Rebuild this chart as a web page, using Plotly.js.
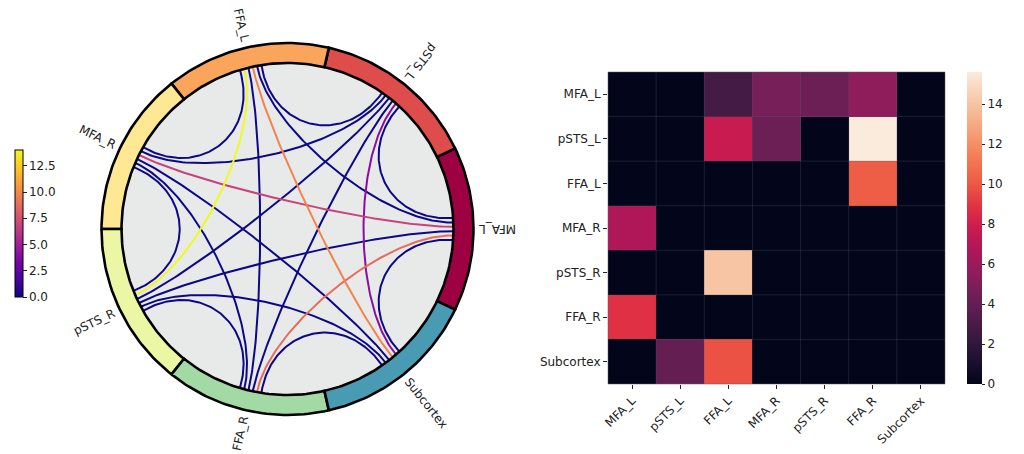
<!DOCTYPE html>
<html><head><meta charset="utf-8">
<script src="https://cdn.plot.ly/plotly-3.0.1.min.js"></script>
<style>html,body{margin:0;padding:0;background:#fff;}#chart{width:1024px;height:454px;}</style>
</head><body><div id="chart"></div>
<script>
// ---------- data ----------
const regions = ['MFA_L','pSTS_L','FFA_L','MFA_R','pSTS_R','FFA_R','Subcortex'];
const row_MFA_L     = [0,   0,   2.8, 4.7, 4.3, 5.6,  0];
const row_pSTS_L    = [0,   0,   7.7, 4.3, 0,   15.6, 0];
const row_FFA_L     = [0,   0,   0,   0,   0,   10.2, 0];
const row_MFA_R     = [6.8, 0,   0,   0,   0,   0,    0];
const row_pSTS_R    = [0,   0,   14.0,0,   0,   0,    0];
const row_FFA_R     = [8.8, 0,   0,   0,   0,   0,    0];
const row_Subcortex = [0,   4.0, 9.8, 0,   0,   0,    0];
const circleTicks = [0, 2.5, 5, 7.5, 10, 12.5];
const heatTicks = [0, 2, 4, 6, 8, 10, 12, 14];

// ---------- styles ----------
const nodeColors = ['#9e0142','#de4c4b','#fba55c','#fee894','#ebf7a4','#a3d9a4','#489bb3'];
const flipLabel = [true,true,true,true,true,true,false];
const plasma = [[0,'#0d0887'],[0.111,'#46039f'],[0.222,'#7201a8'],[0.333,'#9c179e'],[0.444,'#bd3786'],[0.556,'#d8576b'],[0.667,'#ed7953'],[0.778,'#fb9f3a'],[0.889,'#fdca26'],[1,'#f0f921']];
const rocket = [[0,'#03051a'],[0.071,'#1b1030'],[0.143,'#35193e'],[0.214,'#521c4c'],[0.286,'#701f57'],[0.357,'#8e1d5b'],[0.429,'#ad1759'],[0.5,'#cb1b4f'],[0.571,'#e13342'],[0.643,'#ed5a44'],[0.714,'#f37651'],[0.786,'#f5966e'],[0.857,'#f6b48f'],[0.929,'#f7d0b5'],[1,'#faebdd']];
const FONT = 'DejaVu Sans';
const R_IN = 166, R_OUT = 186, R_LBL = 192, K = 0.6, SPREAD = 3.8;
const CX = 287.5, CY = 229, LEFT_W = 575, H = 454, W = 1024;

const M = [row_MFA_L,row_pSTS_L,row_FFA_L,row_MFA_R,row_pSTS_R,row_FFA_R,row_Subcortex];
const n = regions.length;
const step = 360/n;
const ang = regions.map((_,i)=>i*step);
const rad = d=>d*Math.PI/180;

function hex2rgb(h){return [parseInt(h.slice(1,3),16),parseInt(h.slice(3,5),16),parseInt(h.slice(5,7),16)];}
function cmap(scale,t){
  t=Math.max(0,Math.min(1,t));
  for(let k=1;k<scale.length;k++){
    if(t<=scale[k][0]){
      const a=scale[k-1],b=scale[k];const f=(t-a[0])/(b[0]-a[0]);
      const ca=hex2rgb(a[1]),cb=hex2rgb(b[1]);
      return 'rgb('+ca.map((v,q)=>Math.round(v+(cb[q]-v)*f)).join(',')+')';
    }
  }
  return scale[scale.length-1][1];
}

// lower-triangle connections
const pairs=[];
for(let i=1;i<n;i++)for(let j=0;j<i;j++)pairs.push({i,j,v:M[i][j]});
const vmaxC=Math.max(...pairs.map(p=>p.v));

// endpoint spread per node
const off={};
for(let a=0;a<n;a++){
  const conn=[];
  pairs.forEach((p,k)=>{const o=p.i===a?p.j:(p.j===a?p.i:-1);if(o>=0)conn.push({k,d:((ang[o]-ang[a])%360+360)%360});});
  conn.sort((x,y)=>x.d-y.d);
  conn.forEach((c,idx)=>{off[a+'_'+c.k]=SPREAD-idx*(2*SPREAD/(conn.length-1));});
}

const traces=[];
// disc background
{
  const xs=[],ys=[];
  for(let t=0;t<=360;t+=2){xs.push(R_IN*Math.cos(rad(t)));ys.push(R_IN*Math.sin(rad(t)));}
  traces.push({x:xs,y:ys,mode:'lines',fill:'toself',fillcolor:'#e8e9e9',line:{width:0,color:'#e8e9e9'},hoverinfo:'skip',showlegend:false,xaxis:'x',yaxis:'y'});
}
// chords
const order=pairs.map((p,k)=>k).sort((a,b)=>pairs[a].v-pairs[b].v);
order.forEach(k=>{
  const p=pairs[k];
  const a0=rad(ang[p.i]+off[p.i+'_'+k]), a1=rad(ang[p.j]+off[p.j+'_'+k]);
  const P0=[R_IN*Math.cos(a0),R_IN*Math.sin(a0)], P3=[R_IN*Math.cos(a1),R_IN*Math.sin(a1)];
  const P1=[K*P0[0],K*P0[1]], P2=[K*P3[0],K*P3[1]];
  const xs=[],ys=[];
  for(let s=0;s<=100;s++){
    const t=s/100,u=1-t;
    const b0=u*u*u,b1=3*u*u*t,b2=3*u*t*t,b3=t*t*t;
    xs.push(b0*P0[0]+b1*P1[0]+b2*P2[0]+b3*P3[0]);
    ys.push(b0*P0[1]+b1*P1[1]+b2*P2[1]+b3*P3[1]);
  }
  traces.push({x:xs,y:ys,mode:'lines',line:{color:cmap(plasma,p.v/vmaxC),width:2},hoverinfo:'skip',showlegend:false,xaxis:'x',yaxis:'y'});
});
// ring segments
regions.forEach((r,i)=>{
  const a1=ang[i]-step/2,a2=ang[i]+step/2;const xs=[],ys=[];
  for(let s=0;s<=40;s++){const t=rad(a1+(a2-a1)*s/40);xs.push(R_OUT*Math.cos(t));ys.push(R_OUT*Math.sin(t));}
  for(let s=40;s>=0;s--){const t=rad(a1+(a2-a1)*s/40);xs.push(R_IN*Math.cos(t));ys.push(R_IN*Math.sin(t));}
  xs.push(xs[0]);ys.push(ys[0]);
  traces.push({x:xs,y:ys,mode:'lines',fill:'toself',fillcolor:nodeColors[i],line:{color:'#000',width:2.6},hoverinfo:'skip',showlegend:false,xaxis:'x',yaxis:'y'});
});
// plasma colorbar carrier
traces.push({x:[0],y:[0],mode:'markers',xaxis:'x',yaxis:'y',hoverinfo:'skip',showlegend:false,
  marker:{size:1,opacity:0,color:pairs.map(p=>p.v),cmin:0,cmax:vmaxC,colorscale:plasma,showscale:true,
    colorbar:{x:15/W,xanchor:'left',xpad:0,ypad:0,y:(H-223.5)/H,yanchor:'middle',thicknessmode:'pixels',thickness:7.5,lenmode:'pixels',len:147,
      outlinewidth:1,outlinecolor:'#000',tickmode:'array',tickvals:circleTicks,ticktext:circleTicks.map(v=>v.toFixed(1)),
      ticks:'outside',ticklen:3.5,tickwidth:1,tickcolor:'#222',tickfont:{family:FONT,size:12,color:'#222'}}}});

// heatmap
const zmax=Math.max(...M.flat());
traces.push({type:'heatmap',z:M,x:regions,y:regions,xaxis:'x2',yaxis:'y2',colorscale:rocket,zmin:0,zmax:zmax,hoverinfo:'skip',
  colorbar:{x:967/W,xanchor:'left',xpad:0,ypad:0,y:(H-228)/H,yanchor:'middle',thicknessmode:'pixels',thickness:15,lenmode:'pixels',len:312,
    outlinewidth:0,tickmode:'array',tickvals:heatTicks,ticks:'outside',ticklen:3.5,tickwidth:1,tickcolor:'#222',
    tickfont:{family:FONT,size:12,color:'#222'}}});

// labels
const ctx=document.createElement('canvas').getContext('2d');
ctx.font='12px "DejaVu Sans"';
const annotations=regions.map((r,i)=>{
  const w=ctx.measureText(r).width;
  const rc=R_LBL+w/2;
  const dir=flipLabel[i]?ang[i]+180:ang[i];
  let ta=-dir; while(ta<=-180)ta+=360; while(ta>180)ta-=360;
  return {x:rc*Math.cos(rad(ang[i])),y:rc*Math.sin(rad(ang[i])),xref:'x',yref:'y',text:r,showarrow:false,textangle:ta,
    xanchor:'center',yanchor:'middle',font:{family:FONT,size:12,color:'#222'}};
});

// heatmap cell separators + frame
const shapes=[];
for(let k=1;k<n;k++){
  shapes.push({type:'line',xref:'x2',yref:'y2 domain',x0:k-0.5,x1:k-0.5,y0:0,y1:1,line:{color:'rgba(90,90,110,0.3)',width:1},layer:'above'});
  shapes.push({type:'line',yref:'y2',xref:'x2 domain',y0:k-0.5,y1:k-0.5,x0:0,x1:1,line:{color:'rgba(90,90,110,0.3)',width:1},layer:'above'});
}
shapes.push({type:'rect',xref:'x2 domain',yref:'y2 domain',x0:0,x1:1,y0:0,y1:1,line:{color:'rgba(90,90,110,0.5)',width:1},layer:'above'});

const layout={
  width:W,height:H,margin:{l:0,r:0,t:0,b:0},paper_bgcolor:'#fff',plot_bgcolor:'rgba(0,0,0,0)',showlegend:false,
  xaxis:{domain:[0,LEFT_W/W],range:[-CX,LEFT_W-CX],visible:false,fixedrange:true},
  yaxis:{domain:[0,1],range:[-(H-CY),CY],visible:false,fixedrange:true},
  xaxis2:{domain:[608/W,945/W],anchor:'y2',showgrid:false,zeroline:false,showline:false,ticks:'outside',ticklen:4,tickwidth:1,tickcolor:'#222',
    tickangle:-45,tickfont:{family:FONT,size:12,color:'#222'},fixedrange:true},
  yaxis2:{domain:[(H-384)/H,(H-72)/H],anchor:'x2',autorange:'reversed',showgrid:false,zeroline:false,showline:false,ticks:'outside',ticklen:4,tickwidth:1,tickcolor:'#222',
    tickfont:{family:FONT,size:12,color:'#222'},fixedrange:true},
  annotations:annotations,shapes:shapes
};
Plotly.newPlot('chart',traces,layout,{displayModeBar:false,staticPlot:true});
</script></body></html>
